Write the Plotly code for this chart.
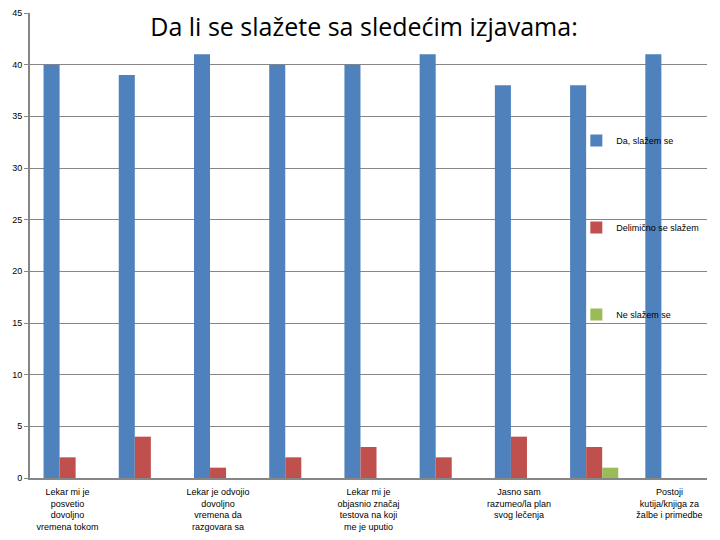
import plotly.graph_objects as go

# x positions of the nine statements, only every other one is labelled
categories = list(range(9))
label_positions = [0, 2, 4, 6, 8]
labels = [
    "Lekar mi je<br>posvetio<br>dovoljno<br>vremena tokom",
    "Lekar je odvojio<br>dovoljno<br>vremena da<br>razgovara sa",
    "Lekar mi je<br>objasnio značaj<br>testova na koji<br>me je uputio",
    "Jasno sam<br>razumeo/la plan<br>svog lečenja",
    "Postoji<br>kutija/knjiga za<br>žalbe i primedbe",
]

da = [40, 39, 41, 40, 40, 41, 38, 38, 41]
delimicno = [2, 4, 1, 2, 3, 2, 4, 3, 0]
ne = [0, 0, 0, 0, 0, 0, 0, 1, 0]

series = [
    ("Da, slažem se", da, "#4F81BD"),
    ("Delimično se slažem", delimicno, "#C0504D"),
    ("Ne slažem se", ne, "#9BBB59"),
]

fig = go.Figure()
for name, vals, color in series:
    fig.add_trace(go.Bar(x=categories, y=vals, name=name, marker_color=color,
                         marker_line_width=0, legendgroup=name))

font = "Liberation Sans, Arial, sans-serif"
# the page body adds an 8px margin, so the figure is a bit smaller than the window
fig.update_layout(
    width=712, height=532,
    margin=dict(l=22, r=13, t=5, b=62, autoexpand=False),
    paper_bgcolor="white", plot_bgcolor="white",
    barmode="group", bargap=0.36, bargroupgap=0,
    title=dict(text="Da li se slažete sa sledećim izjavama:", x=0.5, xanchor="center",
               y=1 - 19 / 532, yanchor="middle",
               font=dict(family="Open Sans, sans-serif", size=25, color="black")),
    legend=dict(x=0.807, y=0.757, xanchor="left", yanchor="top",
                font=dict(family=font, size=9, color="black"),
                bgcolor="rgba(0,0,0,0)", tracegroupgap=68, itemwidth=30),
    showlegend=True,
)
fig.update_xaxes(range=[-0.5, 8.5], tickvals=label_positions, ticktext=labels,
                 showgrid=False, showline=True, linecolor="#868686", linewidth=2,
                 ticks="", automargin=False, ticklabelstandoff=4,
                 tickfont=dict(family=font, size=9, color="black"))
fig.update_yaxes(range=[0, 45], dtick=5, showgrid=True, gridcolor="#868686", gridwidth=1,
                 showline=True, linecolor="#868686", linewidth=2, zeroline=False,
                 ticks="outside", ticklen=4, tickcolor="#868686", automargin=False,
                 tickfont=dict(family=font, size=9, color="black"))

fig.write_html("out.html")
